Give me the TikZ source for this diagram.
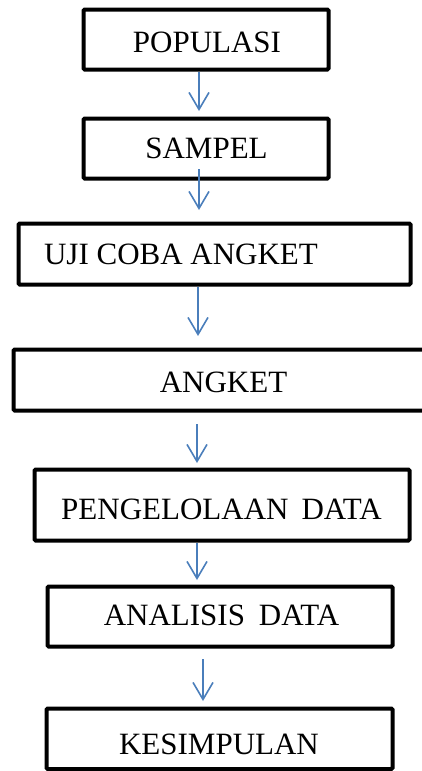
\documentclass[tikz,border=0pt]{standalone}
\usepackage{fontspec}
\setmainfont{Liberation Serif}
\usetikzlibrary{arrows.meta}
\definecolor{arrowblue}{RGB}{74,126,187}
\tikzset{
  box/.style={draw=black, line width=4pt, rounded corners=1.2pt, inner sep=0pt, fill=none},
  lbl/.style={inner sep=0pt, anchor=base, font=\fontsize{31}{37}\selectfont},
  arr/.style={draw=arrowblue, line width=1.6pt, -{Straight Barb[length=17pt,width=20pt,line width=1.6pt]}},
}
\begin{document}
\begin{tikzpicture}[x=1pt,y=-1pt]
\useasboundingbox (0,0) rectangle (422,771);
% boxes
\node[box, minimum width=245pt, minimum height=60pt] (b1) at (206,39.5) {};
\node[box, minimum width=245pt, minimum height=60pt] (b2) at (206,148.5) {};
\node[box, minimum width=392pt, minimum height=61pt] (b3) at (214.5,254) {};
\node[box, minimum width=426.5pt, minimum height=61pt] (b4) at (226.75,380) {};
\node[box, minimum width=375pt, minimum height=71pt] (b5) at (222,505) {};
\node[box, minimum width=345pt, minimum height=60pt] (b6) at (220,616.5) {};
\node[box, minimum width=346pt, minimum height=60.5pt] (b7) at (219.5,738.75) {};
% labels
\node[lbl] (t1) at (207,52) {POPULASI};
\node[lbl] (t2) at (206.5,158) {SAMPEL};
\node[lbl] (t3) at (181,264) {UJI COBA ANGKET};
\node[lbl] (t4) at (223.5,392) {ANGKET};
\node[lbl] (t5) at (221.5,519) {PENGELOLAAN\hspace{0.42em}DATA};
\node[lbl] (t6) at (221.5,625) {ANALISIS\hspace{0.45em}DATA};
\node[lbl] (t7) at (219,754) {KESIMPULAN};
% arrows
\draw[arr] ([xshift=-7pt]b1.south) -- ([xshift=-7pt,yshift=5.5pt]b2.north);
\draw[arr] ([xshift=-7pt,yshift=11.5pt]b2.south) -- ([xshift=-15.5pt,yshift=11.5pt]b3.north);
\draw[arr] ([xshift=-16.5pt]b3.south) -- ([xshift=-28.75pt,yshift=11.5pt]b4.north);
\draw[arr] ([xshift=-29.75pt,yshift=-11.5pt]b4.south) -- ([xshift=-25pt,yshift=4.5pt]b5.north);
\draw[arr] ([xshift=-25pt]b5.south) -- ([xshift=-23pt,yshift=4.5pt]b6.north);
\draw[arr] ([xshift=-17pt,yshift=-10.5pt]b6.south) -- ([xshift=-16.5pt,yshift=5.5pt]b7.north);
\end{tikzpicture}
\end{document}
